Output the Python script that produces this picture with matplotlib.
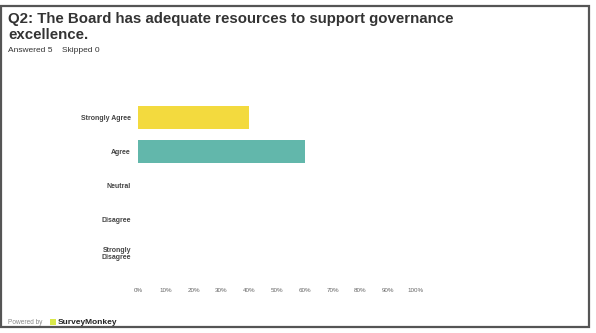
import matplotlib
matplotlib.use("Agg")
import matplotlib.pyplot as plt
from matplotlib.patches import Rectangle

plt.rcParams['font.family'] = ['Liberation Sans', 'DejaVu Sans']

# data
categories = ["Strongly Agree", "Agree", "Neutral", "Disagree", "Strongly\nDisagree"]
percents = [40, 60, 0, 0, 0]
colors = ["#F3DA3E", "#62B7AB", "#9DB5D8", "#E58E6E", "#B39BC9"]
xticks = list(range(0, 101, 10))
xtick_labels = [f"{t}%" for t in xticks]

W, H = 596, 333
fig = plt.figure(figsize=(W / 100, H / 100), dpi=100)
fig.patch.set_facecolor("white")

# frame around the whole screenshot
fig.add_artist(Rectangle((1 / W, 6 / H), 588 / W, 321 / H, transform=fig.transFigure,
                         fill=False, edgecolor="#555555", linewidth=1.6))

fig.text(8 / W, 1 - 19 / H, "Q2: The Board has adequate resources to support governance",
         fontsize=10.8, fontweight="bold", color="#333333", va="center")
fig.text(8 / W, 1 - 35 / H, "excellence.", fontsize=10.8, fontweight="bold",
         color="#333333", va="center")
fig.text(8 / W, 1 - 51 / H, "Answered 5    Skipped 0", fontsize=6, color="#333333",
         va="center")

ax = fig.add_axes([138 / W, 1 - 270 / H, 278 / W, 169 / H])
y = list(range(len(categories)))
ax.barh(y, percents, height=0.68, color=colors)
ax.set_xlim(0, 100)
ax.set_ylim(4.5, -0.5)
ax.set_yticks(y)
ax.set_yticklabels(categories, fontsize=5, fontweight="bold", color="#444444",
                   linespacing=1.0)
ax.set_xticks(xticks)
ax.set_xticklabels(xtick_labels, fontsize=4.5, color="#666666")
ax.tick_params(axis="x", length=0, pad=13)
ax.tick_params(axis="y", length=0, pad=5)
for s in ax.spines.values():
    s.set_visible(False)

# footer
fig.text(8 / W, 1 - 322 / H, "Powered by", fontsize=4.7, color="#888888", va="center")
fig.add_artist(Rectangle((50 / W, 1 - 325 / H), 6 / W, 6 / H, transform=fig.transFigure,
                         facecolor="#D9E84A", edgecolor="none"))
fig.text(58 / W, 1 - 322 / H, "SurveyMonkey", fontsize=6, fontweight="bold",
         color="#222222", va="center")

fig.savefig("out.png", dpi=100)
